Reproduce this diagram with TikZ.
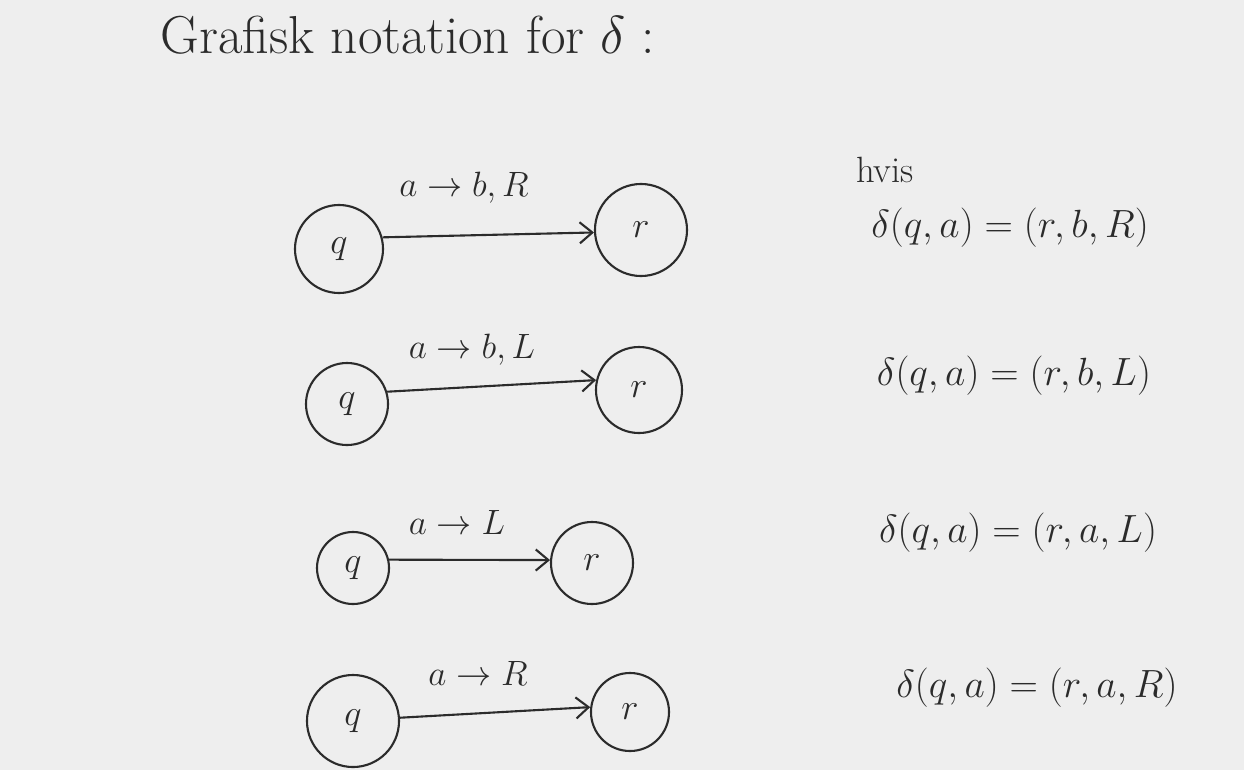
\RequirePackage{fix-cm}
\documentclass[tikz,border=0pt]{standalone}
\usepackage{tikz}
\usetikzlibrary{arrows.meta}
\usepackage{amsmath}
\usepackage{xcolor}

\definecolor{papir}{HTML}{EEEEEE}
\definecolor{blaek}{HTML}{2B2B2B}

\tikzset{
    tilstand/.style={circle, draw=blaek, line width=1.5pt, inner sep=0pt,
        text=blaek, font=\fontsize{26pt}{30pt}\selectfont},
    overgang/.style={draw=blaek, line width=1.5pt,
        -{Straight Barb[length=9pt, width=15pt, line width=1.5pt]}},
    etiket/.style={text=blaek, font=\fontsize{25pt}{30pt}\selectfont},
    formel/.style={text=blaek, font=\fontsize{28pt}{34pt}\selectfont},
}

\begin{document}
\begin{tikzpicture}[x=0.025cm, y=-0.025cm]
    % 背景与画布大小 (1244 x 770)
    \fill[papir] (0, 0) rectangle (1244, 770);
    \useasboundingbox (0, 0) rectangle (1244, 770);

    % 标题
    \node[text=blaek, font=\fontsize{38pt}{46pt}\selectfont] (titel) at (408, 35)
        {Grafisk notation for $\delta$ :};

    % 第一行: a -> b, R
    \node[tilstand, minimum size=2.2cm] (q1) at (339, 249) {$q$};
    \node[tilstand, minimum size=2.3cm] (r1) at (641, 230) {$r$};
    \draw[overgang] (q1.15) -- (r1.183);
    \node[etiket] (e1) at (464, 188) {$a \rightarrow b, R$};
    \node[text=blaek, font=\fontsize{26pt}{30pt}\selectfont] (hvis) at (885, 170) {hvis};
    \node[formel] (f1) at (1010, 228) {$\delta(q,a) = (r,b,R)$};

    % 第二行: a -> b, L
    \node[tilstand, minimum size=2.05cm] (q2) at (347, 404) {$q$};
    \node[tilstand, minimum size=2.15cm] (r2) at (639, 390) {$r$};
    \draw[overgang] (q2.17) -- (r2.167);
    \node[etiket] (e2) at (472, 350) {$a \rightarrow b, L$};
    \node[formel] (f2) at (1014, 376) {$\delta(q,a) = (r,b,L)$};

    % 第三行: a -> L
    \node[tilstand, minimum size=1.8cm] (q3) at (353, 568) {$q$};
    \node[tilstand, minimum size=2.05cm] (r3) at (592, 563) {$r$};
    \draw[overgang] (q3.13) -- (r3.176);
    \node[etiket] (e3) at (457, 522) {$a \rightarrow L$};
    \node[formel] (f3) at (1018, 533) {$\delta(q,a) = (r,a,L)$};

    % 第四行: a -> R
    \node[tilstand, minimum size=2.3cm] (q4) at (353, 721) {$q$};
    \node[tilstand, minimum size=1.95cm] (r4) at (630, 712) {$r$};
    \draw[overgang] (q4.4) -- (r4.173);
    \node[etiket] (e4) at (478, 673) {$a \rightarrow R$};
    \node[formel] (f4) at (1037, 688) {$\delta(q,a) = (r,a,R)$};
\end{tikzpicture}
\end{document}
